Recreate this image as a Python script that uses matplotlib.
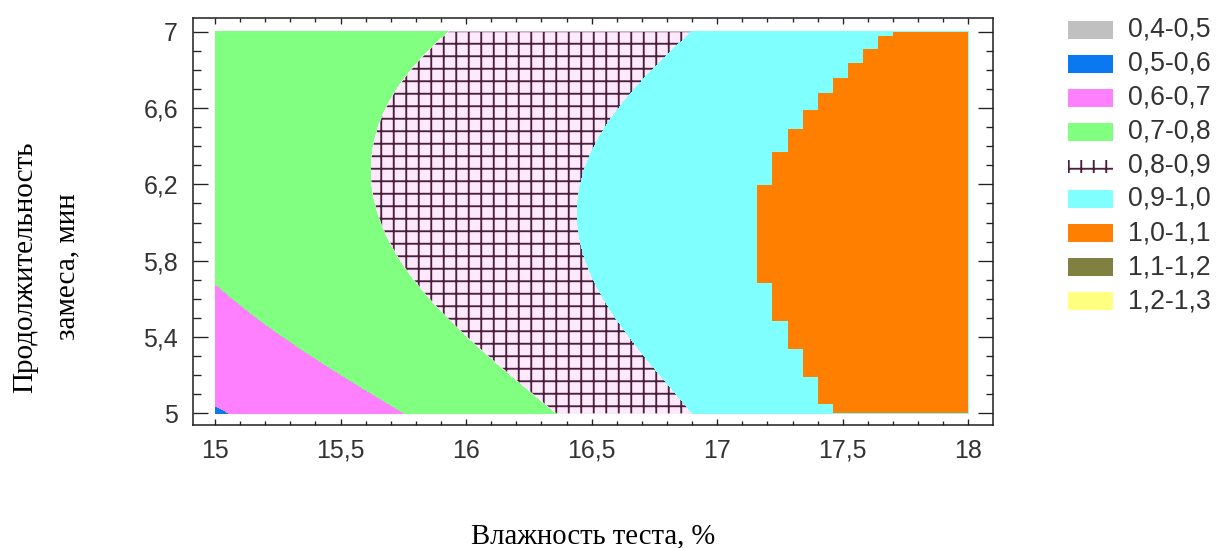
import numpy as np
import matplotlib
matplotlib.use("Agg")
import matplotlib.pyplot as plt
from matplotlib.colors import ListedColormap
from matplotlib.patches import Rectangle
from matplotlib.ticker import MultipleLocator

# Estimated response surface in coded units u = moisture - 16.5, v = mixing time - 6.
# Term order: 1, u, v, u^2, v^2, uv, u^3, u^2v, uv^2, v^3, u^4, u^3v, u^2v^2, uv^3, v^4
model_coefs = [0.907765, 0.139607, 0.00619, 0.008433, -0.076963, -0.025377, -0.009511, 0.007889,
               0.006703, 0.007015, -0.004436, -0.000848, 0.014028, -0.010245, 0.007666]
moisture_center = 16.5
time_center = 6.0
moisture_range = [15.0, 18.0]
time_range = [5.0, 7.0]

levels = [0.4, 0.5, 0.6, 0.7, 0.8, 0.9, 1.0, 1.1, 1.2, 1.3]
band_labels = ["0,4-0,5", "0,5-0,6", "0,6-0,7", "0,7-0,8", "0,8-0,9", "0,9-1,0", "1,0-1,1", "1,1-1,2", "1,2-1,3"]
band_colors = ["#c0c0c0", "#0a78f0", "#ff80ff", "#80ff80", "#fde9fb", "#80ffff", "#ff8000", "#808040", "#ffff80"]
band_hatches = [None, None, None, None, "+", None, None, None, None]
hatch_color = "#4b1e3c"

x_ticks = [15, 15.5, 16, 16.5, 17, 17.5, 18]
x_tick_labels = ["15", "15,5", "16", "16,5", "17", "17,5", "18"]
y_ticks = [5, 5.4, 5.8, 6.2, 6.6, 7]
y_tick_labels = ["5", "5,4", "5,8", "6,2", "6,6", "7"]


def terms(u, v):
    return np.stack([np.ones_like(u), u, v, u * u, v * v, u * v, u ** 3, u * u * v, u * v * v, v ** 3,
                     u ** 4, u ** 3 * v, u * u * v * v, u * v ** 3, v ** 4], axis=-1)


def response(x, y):
    u = np.asarray(x, float) - moisture_center
    v = np.asarray(y, float) - time_center
    return terms(u, v) @ np.array(model_coefs)


plt.rcParams["font.family"] = ["Liberation Sans", "DejaVu Sans"]
plt.rcParams["hatch.color"] = hatch_color
plt.rcParams["hatch.linewidth"] = 1.8

fig = plt.figure(figsize=(1221 / 75, 548 / 75), dpi=75)
ax = fig.add_axes([192.7 / 1221, 1 - 425 / 548, 800 / 1221, 407 / 548])

# smooth filled contours; the 1,0-1,1 band is painted afterwards as a column raster,
# so underneath it the smooth layer keeps the 0,9-1,0 colour
xx, yy = np.meshgrid(np.linspace(*moisture_range, 601), np.linspace(*time_range, 401))
Z = response(xx, yy)
smooth_colors = list(band_colors)
smooth_colors[6] = band_colors[5]
ax.contourf(xx, yy, Z, levels=levels, colors=smooth_colors, hatches=band_hatches, zorder=1)

# column raster (50 columns in moisture) for the 1,0-1,1 band
xe = np.linspace(*moisture_range, 51)
ye = np.linspace(*time_range, 401)
XC, YC = np.meshgrid((xe[:-1] + xe[1:]) / 2, (ye[:-1] + ye[1:]) / 2)
ZC = response(XC, YC)
outside = ~((ZC >= levels[6]) & (ZC < levels[7]))
ax.pcolormesh(xe, ye, np.ma.array(np.ones_like(ZC), mask=outside),
              cmap=ListedColormap([band_colors[6]]), vmin=0, vmax=2, zorder=2)

ax.set_xlim(14.911, 18.097)
ax.set_ylim(4.939, 7.072)
ax.set_xticks(x_ticks, x_tick_labels)
ax.set_yticks(y_ticks, y_tick_labels)
ax.xaxis.set_minor_locator(MultipleLocator(0.1))
ax.yaxis.set_minor_locator(MultipleLocator(0.1))
ax.tick_params(which="both", direction="in", top=True, right=True, width=1.3, colors="#222222",
               labelsize=24, labelcolor="#333333")
ax.tick_params(axis="x", which="major", length=6, pad=13)
ax.tick_params(axis="x", which="minor", length=3.4)
ax.tick_params(axis="y", which="major", length=14.4, pad=14)
ax.tick_params(axis="y", which="minor", length=7.2)
for s in ax.spines.values():
    s.set_linewidth(1.5)
    s.set_color("#222222")

serif = ["Liberation Serif", "DejaVu Serif"]
fig.text(25 / 1221, 1 - 267 / 548, "Продолжительность", rotation=90, ha="center", va="center",
         fontsize=28, family=serif)
fig.text(67 / 1221, 1 - 267 / 548, "замеса, мин", rotation=90, ha="center", va="center",
         fontsize=28, family=serif)
fig.text(593 / 1221, 1 - 543 / 548, "Влажность теста, %", ha="center", va="baseline",
         fontsize=27.5, family=serif)

# legend of the response bands
row_y = [30, 64, 98, 132, 166, 199, 233, 267, 301]
for yc_px, lab, col, h in zip(row_y, band_labels, band_colors, band_hatches):
    hh = 13 if h else 18
    face = "white" if h else col
    edge = hatch_color if h else "none"
    fig.add_artist(Rectangle((1068 / 1221, 1 - (yc_px + hh / 2) / 548), 45 / 1221, hh / 548,
                             transform=fig.transFigure, facecolor=face, edgecolor=edge,
                             linewidth=0, hatch=h))
    fig.text(1128 / 1221, 1 - yc_px / 548, lab, ha="left", va="center", fontsize=25.5, color="#333333")

fig.savefig("out.png", dpi=75)
